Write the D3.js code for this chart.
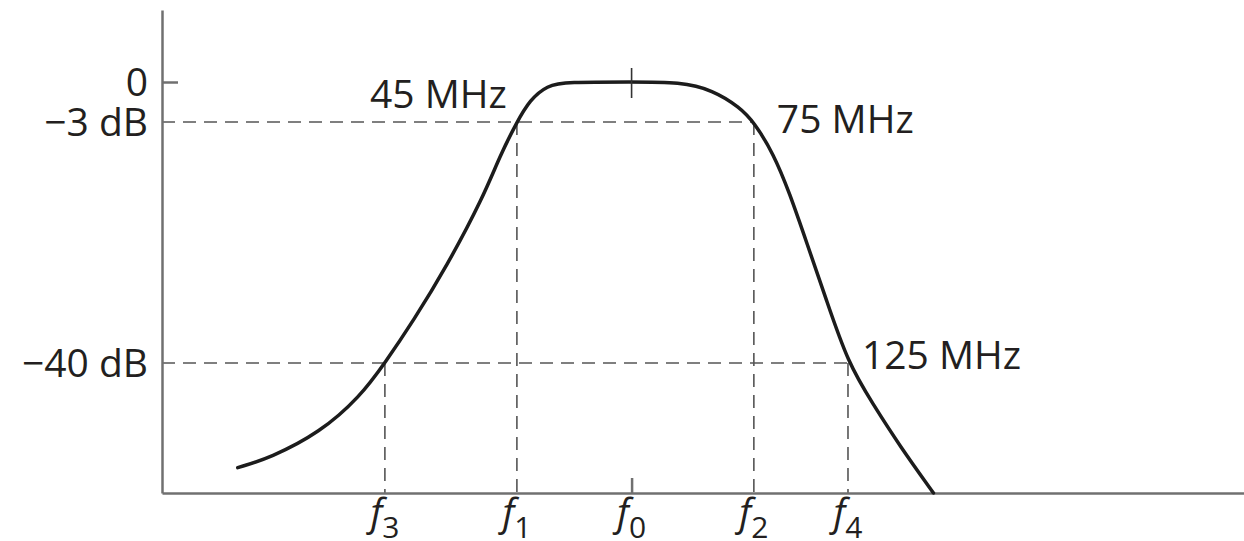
<!DOCTYPE html>
<html>
<head>
<meta charset="utf-8">
<script src="https://cdn.jsdelivr.net/npm/d3@7"></script>
<style>
  html, body { margin: 0; padding: 0; background: #fff; }
  svg { display: block; }
  .lbl { font-family: "Open Sans", "Noto Sans", sans-serif; fill: #231f20; }
</style>
</head>
<body>
<div id="chart"></div>
<script>
// response curve (x in relative frequency units, y in dB)
var freqPos = [7.0, 10.0, 14.6, 18.3, 20.6, 23.2, 26.3, 29.7, 31.2, 32.8, 34.0, 35.6, 37.4, 43.4, 47.9, 50.9, 53.4, 54.7, 56.5, 58.0, 59.6, 61.4, 63.4, 65.7, 68.2, 71.3];
var gainDb = [-56.1, -54.6, -50.7, -45.2, -40, -33.6, -25.2, -14.5, -8.3, -3, -1.35, -0.25, 0, 0, 0, -0.6, -1.9, -3, -7.8, -13.9, -21.6, -30.3, -40, -46.3, -52.8, -60];

// level ticks
var yTickValues = [0, -3, -40];
var yTickLabels = ["0", "\u22123 dB", "\u221240 dB"];

// frequency markers
var markerNames = ["3", "1", "0", "2", "4"];
var markerPos = [20.6, 32.8, 43.4, 54.7, 63.4];

// band edge annotations
var edgeLabels = ["45 MHz", "75 MHz", "125 MHz"];
var edgeFreq = [32.8, 54.7, 63.4];
var edgeDb = [-3, -3, -40];

var width = 1244;
var height = 541;
var margin = { left: 162, top: 10, bottom: 48 };
var axisBottomY = height - margin.bottom;

var svg = d3.select("#chart").append("svg")
  .attr("width", width)
  .attr("height", height);

var xScale = d3.scaleLinear()
  .domain([0, 100])
  .range([margin.left, width]);

// schematic level axis: piecewise (polylinear) scale
var yScale = d3.scaleLinear()
  .domain([5.4, 0, -3, -40, -60])
  .range([margin.top, 82, 122, 363, axisBottomY]);

var axisColor = "#707070";
var dashColor = "#555";

// dashed guide lines
var guides = svg.append("g")
  .attr("stroke", dashColor)
  .attr("stroke-width", 1.6)
  .attr("stroke-dasharray", "13,8")
  .attr("fill", "none");

// horizontal guides at -3 and -40 dB
guides.append("line")
  .attr("x1", xScale(0)).attr("x2", xScale(markerPos[3]))
  .attr("y1", yScale(-3)).attr("y2", yScale(-3));
guides.append("line")
  .attr("x1", xScale(0)).attr("x2", xScale(markerPos[4]))
  .attr("y1", yScale(-40)).attr("y2", yScale(-40));

// verticals from the curve crossings down to the axis
var drops = [
  { f: markerPos[0], db: -40 },
  { f: markerPos[1], db: -3 },
  { f: markerPos[3], db: -3 },
  { f: markerPos[4], db: -40 }
];
guides.selectAll(".drop")
  .data(drops)
  .enter().append("line")
  .attr("class", "drop")
  .attr("x1", d => xScale(d.f)).attr("x2", d => xScale(d.f))
  .attr("y1", d => yScale(d.db)).attr("y2", axisBottomY);

// axes
var yAxis = d3.axisLeft(yScale)
  .tickValues(yTickValues)
  .tickSizeInner(-16)
  .tickSizeOuter(0)
  .tickPadding(14)
  .tickFormat((d, i) => yTickLabels[i]);

var yAxisG = svg.append("g")
  .attr("transform", "translate(" + margin.left + ",0)")
  .call(yAxis);

yAxisG.select(".domain").attr("stroke", axisColor).attr("stroke-width", 2.5);
yAxisG.selectAll(".tick line")
  .attr("stroke", axisColor).attr("stroke-width", 2.5)
  .attr("display", d => d === 0 ? null : "none");
yAxisG.selectAll(".tick text")
  .attr("class", "lbl")
  .attr("font-size", 39)
  .attr("dy", "0.35em");

var xAxis = d3.axisBottom(xScale)
  .tickValues(markerPos)
  .tickSizeInner(-15)
  .tickSizeOuter(0)
  .tickFormat("");

var xAxisG = svg.append("g")
  .attr("transform", "translate(0," + axisBottomY + ")")
  .call(xAxis);

xAxisG.select(".domain").attr("stroke", axisColor).attr("stroke-width", 2.5);
xAxisG.selectAll(".tick line")
  .attr("stroke", axisColor).attr("stroke-width", 2.5)
  .attr("display", (d, i) => markerNames[i] === "0" ? null : "none");

// marker labels f with subscript
var fLabels = xAxisG.selectAll(".tick")
  .append("text")
  .attr("class", "lbl")
  .attr("x", -15)
  .attr("y", 33)
  .attr("text-anchor", "start")
  .attr("font-size", 38);

fLabels.append("tspan")
  .attr("font-style", "italic")
  .text("f");
fLabels.append("tspan")
  .attr("font-size", 30)
  .attr("dy", 12)
  .text((d, i) => markerNames[i]);

// response curve
var line = d3.line()
  .x((d, i) => xScale(freqPos[i]))
  .y(d => yScale(d))
  .curve(d3.curveBasis);

svg.append("path")
  .datum(gainDb)
  .attr("fill", "none")
  .attr("stroke", "#1c1c1c")
  .attr("stroke-width", 3.5)
  .attr("stroke-linecap", "round")
  .attr("d", line);

// centre tick crossing the pass band
svg.append("line")
  .attr("x1", xScale(markerPos[2])).attr("x2", xScale(markerPos[2]))
  .attr("y1", yScale(0) - 14).attr("y2", yScale(0) + 16)
  .attr("stroke", "#333")
  .attr("stroke-width", 1.6);

// band edge labels
var edgeOffsets = [
  { dx: -10, dy: -14, anchor: "end" },
  { dx: 23, dy: 11, anchor: "start" },
  { dx: 14, dy: 6, anchor: "start" }
];
svg.selectAll(".edge-label")
  .data(edgeLabels)
  .enter().append("text")
  .attr("class", "lbl edge-label")
  .attr("font-size", 39)
  .attr("x", (d, i) => xScale(edgeFreq[i]) + edgeOffsets[i].dx)
  .attr("y", (d, i) => yScale(edgeDb[i]) + edgeOffsets[i].dy)
  .attr("text-anchor", (d, i) => edgeOffsets[i].anchor)
  .text(d => d);
</script>
</body>
</html>
